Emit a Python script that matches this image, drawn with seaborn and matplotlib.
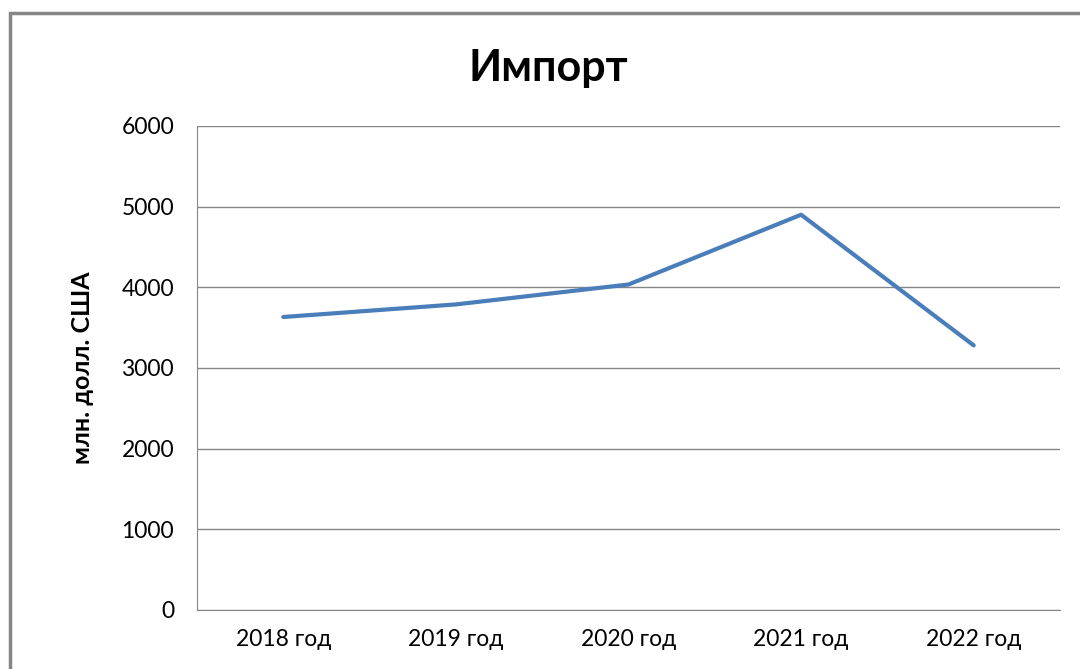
import matplotlib
matplotlib.use("Agg")
import matplotlib.pyplot as plt
import seaborn as sns
import pandas as pd
from matplotlib.patches import Rectangle
from matplotlib.ticker import FixedLocator

years = ["2018 год", "2019 год", "2020 год", "2021 год", "2022 год"]
imports = [3632, 3788, 4035, 4900, 3280]
yticks = [0, 1000, 2000, 3000, 4000, 5000, 6000]

df = pd.DataFrame({"year": years, "value": imports})
df["pos"] = range(len(years))

sns.set_style("white")
plt.rcParams["font.family"] = ["Lato", "DejaVu Sans"]
plt.rcParams["text.color"] = "black"

fig = plt.figure(figsize=(10.8, 6.69), dpi=100)
ax = fig.add_axes([0.1824, 0.0882, 0.7991, 0.7235])

sns.lineplot(data=df, x="pos", y="value", ax=ax, color="#4a7ebb", linewidth=3.0)

ax.set_xlim(-0.5, 4.5)
ax.set_ylim(0, 6000)
ax.set_yticks(yticks)
ax.set_xticks(df["pos"])
ax.set_xticklabels(years)
ax.xaxis.set_minor_locator(FixedLocator([-0.5, 0.5, 1.5, 2.5, 3.5, 4.5]))
ax.tick_params(axis="x", which="major", length=0, pad=14, labelsize=16.5, labelcolor="black")
ax.tick_params(axis="x", which="minor", length=6.5, width=1, color="#868686", direction="out")
ax.tick_params(axis="y", length=6.5, width=1, color="#868686", direction="out", pad=10,
               labelsize=16.5, labelcolor="black")
ax.grid(axis="y", color="#868686", linewidth=1)
ax.set_axisbelow(True)
for s in ["top", "right"]:
    ax.spines[s].set_visible(False)
ax.spines["left"].set_color("#868686")
ax.spines["bottom"].set_color("#868686")
ax.set_xlabel("")
ax.set_ylabel("млн. долл. США", fontsize=18, fontweight="bold", labelpad=20, color="black")

fig.text(0.508, 0.898, "Импорт", ha="center", va="center", fontsize=31, fontweight="bold")

fig.patches.append(Rectangle((10 / 1080, -0.1), 1.2, 0.1 + (669 - 13) / 669,
                             transform=fig.transFigure, fill=False,
                             edgecolor="#868686", linewidth=2.5))

fig.savefig("out.png", dpi=100)
